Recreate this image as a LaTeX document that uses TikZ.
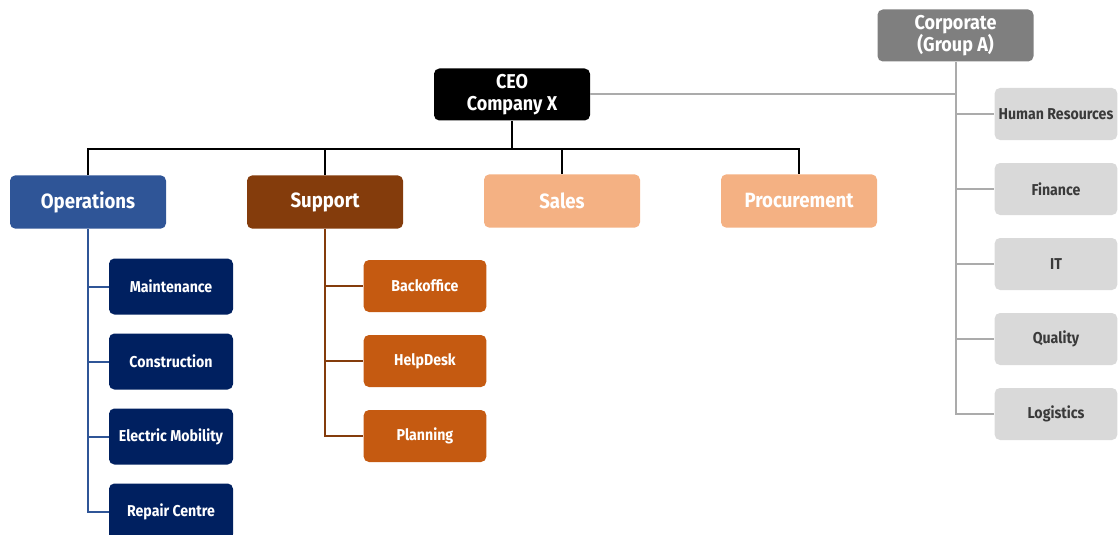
\documentclass[tikz,border=0pt]{standalone}
\usepackage{fontspec}
\setmainfont{Fira Sans}[UprightFont=* SemiBold, BoldFont=* Bold, FakeStretch=0.9]
\definecolor{opsblue}{HTML}{2F5597}
\definecolor{opsdark}{HTML}{002060}
\definecolor{supbrown}{HTML}{843C0C}
\definecolor{suporange}{HTML}{C55A11}
\definecolor{salespeach}{HTML}{F4B183}
\definecolor{corpgray}{HTML}{7F7F7F}
\definecolor{corplight}{HTML}{D9D9D9}
\definecolor{corpline}{HTML}{ABABAB}
\definecolor{corptext}{HTML}{3A3A3A}
\begin{document}
\begin{tikzpicture}[x=0.75pt,y=-0.75pt,
  box/.style={rounded corners=4pt, align=center, inner sep=0pt, text=white},
  head/.style={box, minimum width=117pt, minimum height=39pt, font=\bfseries\fontsize{15}{16.5}\selectfont},
  top/.style={box, minimum width=117pt, minimum height=40pt, font=\bfseries\fontsize{15.5}{17}\selectfont},
  sub/.style={box, minimum width=93pt, minimum height=41pt, font=\bfseries\fontsize{11.8}{13}\selectfont},
  corpsub/.style={box, minimum width=92pt, minimum height=39pt, fill=corplight, text=corptext, font=\bfseries\fontsize{11.8}{13}\selectfont},
  link/.style={line width=1.5pt}
]
\useasboundingbox (0,0) rectangle (1118,535);

% top level
\node[head, fill=black] (ceo) at (512,94.5) {CEO\\Company X};
\node[head, fill=corpgray] (corp) at (955.5,35.5) {Corporate\\(Group A)};

% divisions
\node[top, fill=opsblue] (ops) at (88,202) {Operations};
\node[top, fill=supbrown] (sup) at (325,202) {Support};
\node[top, fill=salespeach] (sales) at (562,201) {Sales};
\node[top, fill=salespeach] (proc) at (799,201) {Procurement};

% operations units
\node[sub, fill=opsdark, minimum height=42pt] (maint) at (171,286.5) {Maintenance};
\node[sub, fill=opsdark, minimum height=42pt] (constr) at (171,361.5) {Construction};
\node[sub, fill=opsdark, minimum height=42pt] (emob) at (171,436.5) {Electric Mobility};
\node[sub, fill=opsdark, minimum height=42pt] (repair) at (171,511.5) {Repair Centre};

% support units
\node[sub, fill=suporange, minimum width=92pt, minimum height=39pt] (back) at (425,286) {Backoffice};
\node[sub, fill=suporange, minimum width=92pt, minimum height=39pt] (help) at (425,361) {HelpDesk};
\node[sub, fill=suporange, minimum width=92pt, minimum height=39pt] (plan) at (425,436) {Planning};

% corporate functions
\node[corpsub] (hr) at (1056,114) {Human Resources};
\node[corpsub] (fin) at (1056,189) {Finance};
\node[corpsub] (it) at (1056,264) {IT};
\node[corpsub] (qual) at (1056,339) {Quality};
\node[corpsub] (logi) at (1056,414) {Logistics};

% CEO to divisions
\coordinate (bus) at (512,149);
\draw[link, black] (ceo.south) -- (bus);
\draw[link, black] (ops.north) |- (bus) -| (proc.north);
\draw[link, black] (sup.north) -- (sup.north |- bus);
\draw[link, black] (sales.north) -- (sales.north |- bus);

% CEO to corporate
\draw[link, corpline] (ceo.east) -- (ceo.east -| corp.south);
\draw[link, corpline] (corp.south) |- (logi.west);
\foreach \n in {hr,fin,it,qual}
  \draw[link, corpline] (corp.south |- \n.west) -- (\n.west);

% operations branch
\draw[link, opsblue] (ops.south) |- (repair.west);
\foreach \n in {maint,constr,emob}
  \draw[link, opsblue] (ops.south |- \n.west) -- (\n.west);

% support branch
\draw[link, supbrown] (sup.south) |- (plan.west);
\foreach \n in {back,help}
  \draw[link, supbrown] (sup.south |- \n.west) -- (\n.west);
\end{tikzpicture}
\end{document}
